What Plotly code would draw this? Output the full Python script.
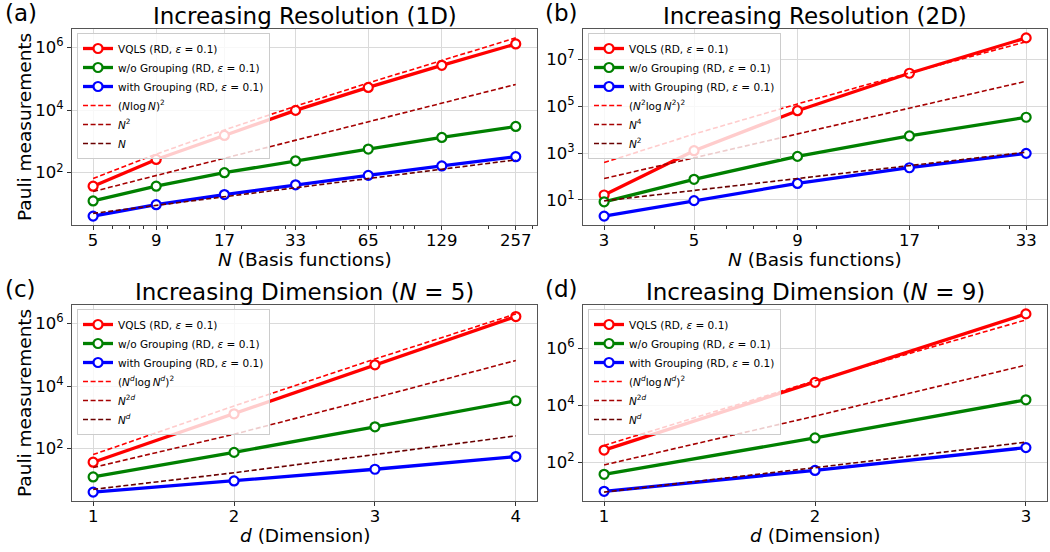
import plotly.graph_objects as go

# ---------------- data ----------------
# (a) increasing resolution, 1D
n_1d = [5, 9, 17, 33, 65, 129, 257]
vqls_1d = [37, 265, 1550, 9800, 53000, 270000, 1.3e6]
nogroup_1d = [12.5, 37, 100, 240, 570, 1340, 3000]
group_1d = [4.1, 9.5, 20, 41, 82, 164, 325]
ref_nlogn2_1d = [64.8, 391.0, 2319, 13314, 73621, 393010, 2033800]
ref_n2_1d = [25, 81, 289, 1089, 4225, 16641, 66049]
ref_n_1d = [5, 9, 17, 33, 65, 129, 257]

# (b) increasing resolution, 2D
n_2d = [3, 5, 9, 17, 33]
vqls_2d = [16, 1260, 65000, 2.6e6, 8.5e7]
nogroup_2d = [8.2, 75, 720, 5400, 34000]
group_2d = [2.0, 9.2, 50, 235, 970]
ref_nlogn2_2d = [391.0, 6475.7, 126700, 2681700, 57994000]
ref_n4_2d = [81, 625, 6561, 83521, 1185921]
ref_n2_2d = [9, 25, 81, 289, 1089]

# (c) increasing dimension, N = 5
d_n5 = [1, 2, 3, 4]
vqls_n5 = [37, 1300, 48000, 1.67e6]
nogroup_n5 = [12.5, 76, 500, 3400]
group_n5 = [4.1, 9.3, 22, 56]
ref_nlogn2_n5 = [64.8, 2319, 73621, 2033800]
ref_n2d_n5 = [25, 289, 4225, 66049]
ref_nd_n5 = [5, 17, 65, 257]

# (d) increasing dimension, N = 9
d_n9 = [1, 2, 3]
vqls_n9 = [270, 65000, 1.66e7]
nogroup_n9 = [38, 720, 15800]
group_n9 = [9.6, 52, 330]
ref_nlogn2_n9 = [391.0, 73621, 10248000]
ref_n2d_n9 = [81, 4225, 263169]
ref_nd_n9 = [9, 65, 513]

EPS = "(RD, <i>ε</i> = 0.1)"
SOLID_NAMES = [f"VQLS {EPS}", f"w/o Grouping {EPS}", f"with Grouping {EPS}"]
SOLID_COLORS = ["#ff0000", "#008000", "#0000ff"]
DASH_COLORS = ["#ff0000", "#a50000", "#6a0000"]

panels = [
    dict(x=n_1d, solid=[vqls_1d, nogroup_1d, group_1d],
         dashed=[ref_nlogn2_1d, ref_n2_1d, ref_n_1d],
         dash_names=["(<i>N</i>log\u2009<i>N</i>)<sup>2</sup>",
                     "<i>N</i><sup>2</sup>", "<i>N</i>"]),
    dict(x=n_2d, solid=[vqls_2d, nogroup_2d, group_2d],
         dashed=[ref_nlogn2_2d, ref_n4_2d, ref_n2_2d],
         dash_names=["(<i>N</i><sup>2</sup>log\u2009<i>N</i><sup>2</sup>)<sup>2</sup>",
                     "<i>N</i><sup>4</sup>", "<i>N</i><sup>2</sup>"]),
    dict(x=d_n5, solid=[vqls_n5, nogroup_n5, group_n5],
         dashed=[ref_nlogn2_n5, ref_n2d_n5, ref_nd_n5],
         dash_names=["(<i>N<sup>d</sup></i>log\u2009<i>N<sup>d</sup></i>)<sup>2</sup>",
                     "<i>N</i><sup>2<i>d</i></sup>", "<i>N<sup>d</sup></i>"]),
    dict(x=d_n9, solid=[vqls_n9, nogroup_n9, group_n9],
         dashed=[ref_nlogn2_n9, ref_n2d_n9, ref_nd_n9],
         dash_names=["(<i>N<sup>d</sup></i>log\u2009<i>N<sup>d</sup></i>)<sup>2</sup>",
                     "<i>N</i><sup>2<i>d</i></sup>", "<i>N<sup>d</sup></i>"]),
]

W, H = 1050, 552
FONT = "DejaVu Sans"

# plot-area boxes in pixels: (left, right, top, bottom)
boxes = [(72, 537, 29, 225), (583, 1047, 29, 225),
         (72, 537, 305, 501), (583, 1047, 305, 501)]

fig = go.Figure()

for i, p in enumerate(panels):
    k = i + 1
    xa = "x" if k == 1 else f"x{k}"
    ya = "y" if k == 1 else f"y{k}"
    lg = "legend" if k == 1 else f"legend{k}"
    for vals, name, col in zip(p["solid"], SOLID_NAMES, SOLID_COLORS):
        fig.add_trace(go.Scatter(
            x=p["x"], y=vals, name=name, mode="lines+markers",
            line=dict(color=col, width=3.3),
            marker=dict(symbol="circle", size=9, color="white",
                        line=dict(color=col, width=2.2)),
            xaxis=xa, yaxis=ya, legend=lg))
    for vals, name, col in zip(p["dashed"], p["dash_names"], DASH_COLORS):
        fig.add_trace(go.Scatter(
            x=p["x"], y=vals, name=name, mode="lines",
            line=dict(color=col, width=1.6, dash="5px,2.6px"),
            xaxis=xa, yaxis=ya, legend=lg))

axis_common = dict(
    showline=True, linecolor="#555555", linewidth=1.1, mirror=True,
    ticks="outside", ticklen=4, tickcolor="#333333", tickwidth=1,
    showgrid=True, gridcolor="#dadada", gridwidth=1.3,
    zeroline=False, tickfont=dict(family=FONT, size=16.5, color="black"),
)

x_ranges = [[0.6135, 2.496], [0.425, 1.570], [0.85, 4.15], [0.9, 3.1]]
y_ranges = [[0.328, 6.592], [-0.08, 8.31], [0.328, 6.592], [0.641, 7.533]]
y_ticks = [[1e2, 1e4, 1e6], [1e1, 1e3, 1e5, 1e7], [1e2, 1e4, 1e6], [1e2, 1e4, 1e6]]

layout = dict(width=W, height=H, margin=dict(l=0, r=0, t=0, b=0),
              paper_bgcolor="white", plot_bgcolor="white",
              font=dict(family=FONT, color="black"))

for i, p in enumerate(panels):
    k = i + 1
    l, r, t, b = boxes[i]
    xkey = "xaxis" if k == 1 else f"xaxis{k}"
    ykey = "yaxis" if k == 1 else f"yaxis{k}"
    ya = "y" if k == 1 else f"y{k}"
    xa = "x" if k == 1 else f"x{k}"
    xdef = dict(axis_common, domain=[l / W, r / W], anchor=ya, range=x_ranges[i],
                ticklabelstandoff=-4)
    if i < 2:
        xdef.update(type="log", tickvals=p["x"], ticktext=[str(v) for v in p["x"]],
                    minor=dict(ticks="outside", ticklen=2.5, tickcolor="#333333",
                               dtick="D1", showgrid=False))
    else:
        xdef.update(type="linear", tickvals=p["x"], ticktext=[str(v) for v in p["x"]])
    ydef = dict(axis_common, domain=[1 - b / H, 1 - t / H], anchor=xa, type="log",
                range=y_ranges[i], tickvals=y_ticks[i],
                ticktext=[f"10<sup>{len(str(int(v))) - 1}</sup>" for v in y_ticks[i]])
    layout[xkey] = xdef
    layout[ykey] = ydef
    lgkey = "legend" if k == 1 else f"legend{k}"
    layout[lgkey] = dict(x=(l + 5) / W, y=1 - (t + 4) / H, xanchor="left", yanchor="top",
                         bgcolor="rgba(255,255,255,0.8)", bordercolor="#cccccc",
                         borderwidth=1, font=dict(family=FONT, size=10.5, color="black"),
                         itemwidth=30, tracegroupgap=0)

fig.update_layout(**layout)

titles = ["Increasing Resolution (1D)", "Increasing Resolution (2D)",
          "Increasing Dimension (<i>N</i> = 5)", "Increasing Dimension (<i>N</i> = 9)"]
letters = ["(a)", "(b)", "(c)", "(d)"]
xlabels = ["<i>N</i> (Basis functions)", "<i>N</i> (Basis functions)",
           "<i>d</i> (Dimension)", "<i>d</i> (Dimension)"]
letter_x = [3, 543, 3, 543]

for i in range(4):
    l, r, t, b = boxes[i]
    cx = (l + r) / 2 / W
    fig.add_annotation(text=titles[i], x=cx, y=1 - (t - 13) / H, xref="paper", yref="paper",
                       xanchor="center", yanchor="middle", showarrow=False,
                       font=dict(family=FONT, size=23, color="black"))
    fig.add_annotation(text=letters[i], x=letter_x[i] / W, y=1 - (t - 16) / H,
                       xref="paper", yref="paper", xanchor="left", yanchor="middle",
                       showarrow=False, font=dict(family=FONT, size=23, color="black"))
    fig.add_annotation(text=xlabels[i], x=cx, y=1 - (b + 34) / H, xref="paper", yref="paper",
                       xanchor="center", yanchor="middle", showarrow=False,
                       font=dict(family=FONT, size=18.5, color="black"))
    if i % 2 == 0:
        fig.add_annotation(text="Pauli measurements", x=24 / W, y=1 - (t + b) / 2 / H,
                           xref="paper", yref="paper", xanchor="center", yanchor="middle",
                           textangle=-90, showarrow=False,
                           font=dict(family=FONT, size=18.5, color="black"))

fig.write_html("out.html")
